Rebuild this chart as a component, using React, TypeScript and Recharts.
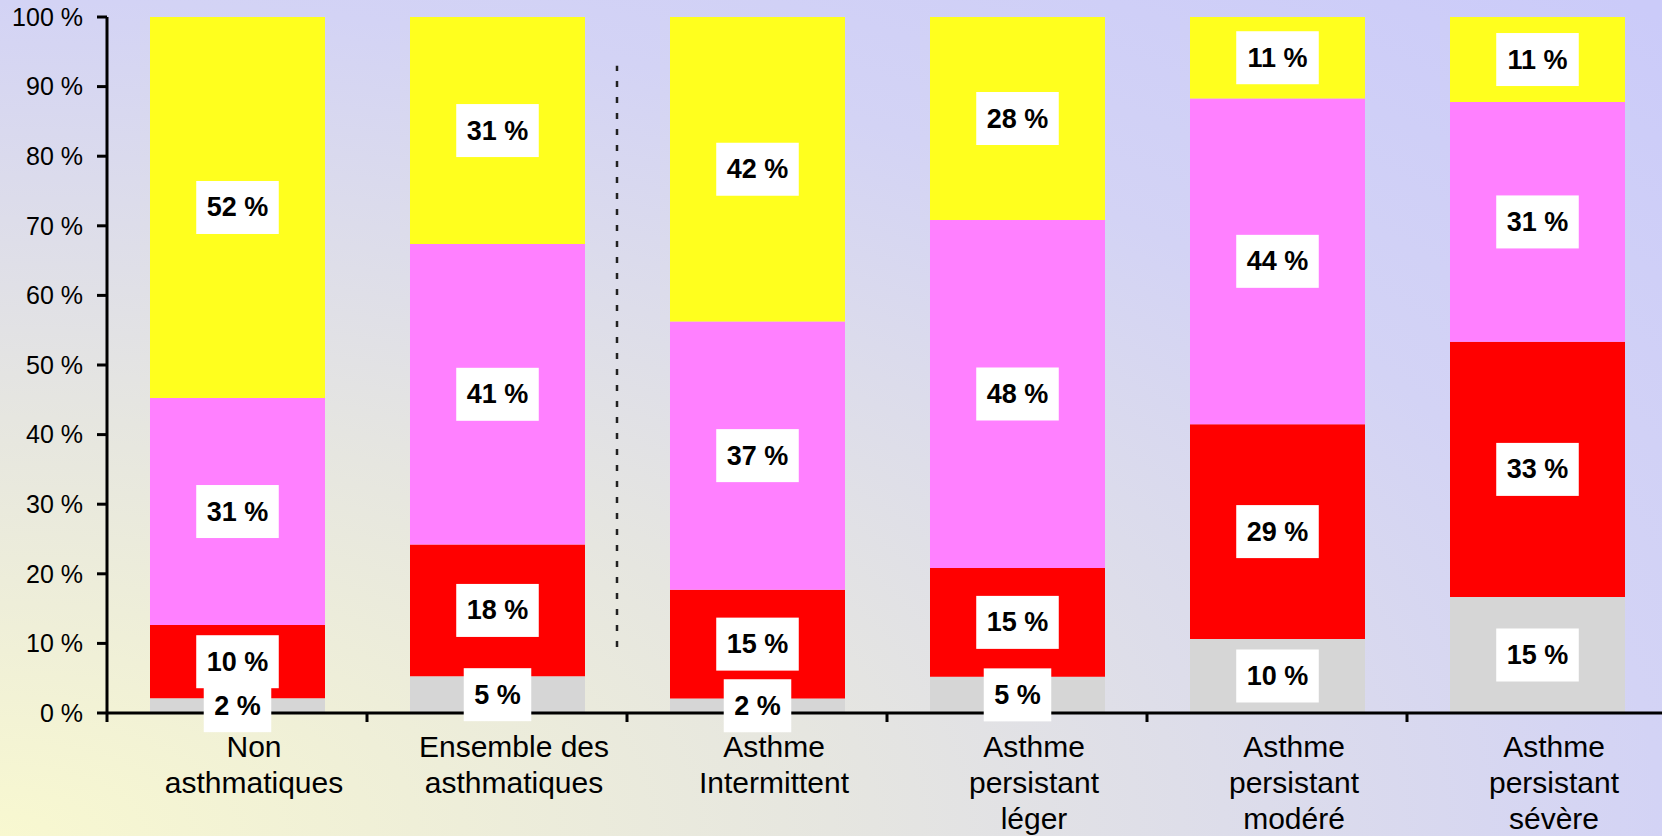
import React from 'react';
import { BarChart, Bar, XAxis, YAxis, LabelList, ReferenceLine } from 'recharts';

const categories = [
  'Non\nasthmatiques',
  'Ensemble des\nasthmatiques',
  'Asthme\nIntermittent',
  'Asthme\npersistant\nléger',
  'Asthme\npersistant\nmodéré',
  'Asthme\npersistant\nsévère',
];

// values shown in the boxes, stacked bottom to top (the chart normalises each column to 100 %)
const grey = [2, 5, 2, 5, 10, 15];
const red = [10, 18, 15, 15, 29, 33];
const pink = [31, 41, 37, 48, 44, 31];
const yellow = [52, 31, 42, 28, 11, 11];

const yTicks = [0, 0.1, 0.2, 0.3, 0.4, 0.5, 0.6, 0.7, 0.8, 0.9, 1];

// dotted separator between the two groups of columns
const dividerFrom = 0.095;
const dividerTo = 0.93;

const series = [
  { key: 'grey', color: '#D6D6D6' },
  { key: 'red', color: '#FF0000' },
  { key: 'pink', color: '#FF80FF' },
  { key: 'yellow', color: '#FFFF1E' },
];

const data = categories.map((name, i) => ({
  name,
  grey: grey[i],
  red: red[i],
  pink: pink[i],
  yellow: yellow[i],
}));

const FONT = '"Liberation Sans", Arial, Helvetica, sans-serif';

const ValueBox: React.FC<any> = ({ x, y, width, height, value }) => {
  const text = `${value} %`;
  const size = 27;
  const textW = text
    .split('')
    .reduce((s, c) => s + (c === ' ' ? 0.278 : c === '%' ? 0.889 : 0.556) * size, 0);
  const boxW = textW + 21;
  const boxH = 53;
  const cx = Number(x) + Number(width) / 2;
  const cy = Number(y) + Number(height) / 2;
  return (
    <g>
      <rect x={cx - boxW / 2} y={cy - boxH / 2} width={boxW} height={boxH} fill="#FFFFFF" />
      <text
        x={cx}
        y={cy}
        textAnchor="middle"
        dominantBaseline="central"
        fontFamily={FONT}
        fontWeight="bold"
        fontSize={size}
        fill="#000"
      >
        {text}
      </text>
    </g>
  );
};

const CategoryTick: React.FC<any> = ({ x, y, payload }) => {
  const lines = String(payload.value).split('\n');
  const edge = x - (payload.offset ?? 0);
  const tx = x + 17;
  return (
    <g>
      <line x1={edge} y1={y} x2={edge} y2={y + 9} stroke="#000" strokeWidth={3} />
      <text x={tx} y={y + 44} textAnchor="middle" fontFamily={FONT} fontSize={30} fill="#000">
        {lines.map((l, i) => (
          <tspan key={i} x={tx} dy={i === 0 ? 0 : 36}>
            {l}
          </tspan>
        ))}
      </text>
    </g>
  );
};

// the separator sits a little left of the category boundary
const Divider: React.FC<any> = ({ x1, y1, x2, y2 }) => (
  <line
    x1={x1 - 10}
    y1={y1}
    x2={x2 - 10}
    y2={y2}
    stroke="#222"
    strokeWidth={2.5}
    strokeDasharray="6 10"
  />
);

export default function App() {
  return (
    <div
      style={{
        position: 'absolute',
        left: 0,
        top: 0,
        width: 1662,
        height: 836,
        overflow: 'hidden',
        background:
          'radial-gradient(1662px 836px at 0% 100%, #F8F8D0 0%, #E6E6E0 50%, #D3D3F5 100%, #CBCBF9 140%)',
      }}
    >
      <BarChart
        width={1667}
        height={836}
        data={data}
        stackOffset="expand"
        margin={{ top: 17, right: 0, bottom: 0, left: 0 }}
      >
        <XAxis
          dataKey="name"
          height={123}
          interval={0}
          tickSize={0}
          tickMargin={0}
          tickLine={false}
          axisLine={{ stroke: '#000', strokeWidth: 3 }}
          tick={<CategoryTick />}
        />
        <XAxis xAxisId="lab" dataKey="name" hide />
        <YAxis
          domain={[0, 1]}
          ticks={yTicks}
          width={107}
          tickSize={10}
          tickMargin={14}
          tickFormatter={(v) => `${Math.round((v as number) * 100)} %`}
          axisLine={{ stroke: '#000', strokeWidth: 3 }}
          tickLine={{ stroke: '#000', strokeWidth: 3 }}
          tick={{ fill: '#000', fontSize: 25, fontFamily: FONT }}
        />
        {series.map((s) => (
          <Bar key={s.key} dataKey={s.key} stackId="a" fill={s.color} barSize={175} isAnimationActive={false} />
        ))}
        <ReferenceLine
          segment={[
            { x: categories[2], y: dividerFrom },
            { x: categories[2], y: dividerTo },
          ]}
          position="start"
          ifOverflow="visible"
          shape={<Divider />}
        />
        {series.map((s) => (
          <Bar
            key={`lab-${s.key}`}
            xAxisId="lab"
            dataKey={s.key}
            stackId="lab"
            fill="transparent"
            barSize={175}
            isAnimationActive={false}
          >
            <LabelList dataKey={s.key} content={<ValueBox />} />
          </Bar>
        ))}
      </BarChart>
    </div>
  );
}
